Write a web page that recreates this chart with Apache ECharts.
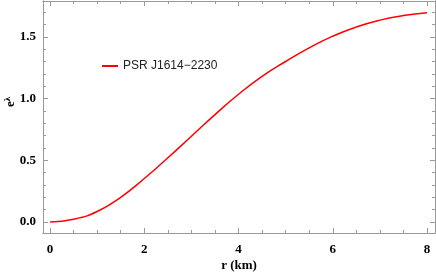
<!DOCTYPE html>
<html><head><meta charset="utf-8">
<script src="https://cdn.jsdelivr.net/npm/echarts@6/dist/echarts.min.js"></script>
<style>html,body{margin:0;padding:0;background:#fff}#c{width:436px;height:273px}</style>
</head><body><div id="c"></div>
<script>
var rValues = [0, 0.5, 1, 1.5, 2, 2.5, 3, 3.5, 4, 4.5, 5, 5.5, 6, 6.5, 7, 7.5, 8];
var eLambda = [0, 0.022, 0.085, 0.2, 0.352, 0.52, 0.695, 0.87, 1.035, 1.18, 1.30, 1.41, 1.505, 1.58, 1.635, 1.672, 1.694];
var xTicks = [0, 2, 4, 6, 8];
var xMinor = [0.5, 1, 1.5, 2.5, 3, 3.5, 4.5, 5, 5.5, 6.5, 7, 7.5];
var yTicks = [0, 0.5, 1.0, 1.5];
var yMinor = [0.1, 0.2, 0.3, 0.4, 0.6, 0.7, 0.8, 0.9, 1.1, 1.2, 1.3, 1.4, 1.6, 1.7];
var seriesName = 'PSR J1614\u22122230';

var axisCol = '#999';
var labelFont = {fontFamily: 'Liberation Serif', fontWeight: 'bold', fontSize: 13, color: '#000'};
var XMIN = -0.15, XMAX = 8.17, YMIN = -0.089, YMAX = 1.79;

function xa(pos, vals, len, showLabel, extra) {
  return Object.assign({
    type: 'value', position: pos, min: XMIN, max: XMAX, offset: 0,
    axisLine: {show: true, onZero: false, lineStyle: {color: axisCol, width: 1}},
    axisTick: {show: true, inside: true, length: len, customValues: vals, lineStyle: {color: axisCol}},
    axisLabel: showLabel ? Object.assign({show: true, margin: 10, customValues: vals,
      formatter: function (v) { return String(Math.round(v)); }}, labelFont) : {show: false},
    splitLine: {show: false}
  }, extra || {});
}
function ya(pos, vals, len, showLabel, extra) {
  return Object.assign({
    type: 'value', position: pos, min: YMIN, max: YMAX, offset: 0,
    axisLine: {show: true, onZero: false, lineStyle: {color: axisCol, width: 1}},
    axisTick: {show: true, inside: true, length: len, customValues: vals, lineStyle: {color: axisCol}},
    axisLabel: showLabel ? Object.assign({show: true, margin: 7, customValues: vals,
      formatter: function (v) { return v.toFixed(1); }}, labelFont) : {show: false},
    splitLine: {show: false}
  }, extra || {});
}

var chart = echarts.init(document.getElementById('c'), null, {renderer: 'canvas'});
chart.setOption({
  animation: false,
  grid: {left: 43, right: 1, top: 1, bottom: 40, containLabel: false, outerBoundsMode: 'none'},
  legend: {
    left: 97, top: 55, itemWidth: 16, itemHeight: 2, icon: 'rect', itemGap: 6,
    textStyle: {fontFamily: 'Liberation Sans', fontSize: 12, color: '#222'},
    data: [seriesName]
  },
  xAxis: [
    xa('bottom', xTicks, 5, true, {name: 'r (km)', nameLocation: 'middle', nameGap: 26, nameMoveOverlap: false,
      nameTextStyle: {fontFamily: 'Liberation Serif', fontWeight: 'bold', fontSize: 13, color: '#000'}}),
    xa('bottom', xMinor, 3, false),
    xa('top', xTicks, 5, false),
    xa('top', xMinor, 3, false)
  ],
  yAxis: [
    ya('left', yTicks, 5, true, {name: '{a|e}{b|\u03bb}', nameLocation: 'middle', nameGap: 24, nameRotate: 90,
      nameMoveOverlap: false,
      nameTextStyle: {padding: [0, 0, 0, 30], rich: {
        a: {fontFamily: 'Liberation Serif', fontWeight: 'bold', fontSize: 13, color: '#000'},
        b: {fontFamily: 'Liberation Serif', fontWeight: 'bold', fontSize: 9, color: '#000', padding: [0, 0, 7, 0]}
      }}}),
    ya('left', yMinor, 3, false),
    ya('right', yTicks, 5, false),
    ya('right', yMinor, 3, false)
  ],
  series: [{
    name: seriesName, type: 'line', smooth: 0.5, showSymbol: false, symbol: 'none',
    xAxisIndex: 0, yAxisIndex: 0,
    lineStyle: {color: '#ff0000', width: 1.5}, itemStyle: {color: '#ff0000'},
    data: rValues.map(function (r, i) { return [r, eLambda[i]]; })
  }]
});
</script></body></html>
